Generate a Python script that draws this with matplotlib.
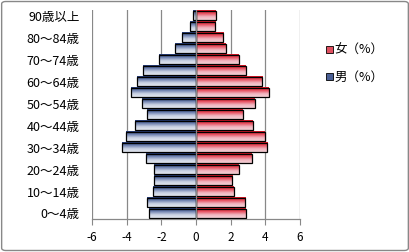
import numpy as np
import matplotlib
matplotlib.use("Agg")
import matplotlib.pyplot as plt
from matplotlib.colors import LinearSegmentedColormap
from matplotlib.patches import Patch, FancyBboxPatch

plt.rcParams['font.family'] = ['Noto Sans CJK JP', 'DejaVu Sans']

# age groups, bottom to top
ages = ["0～4歳", "5～9歳", "10～14歳", "15～19歳", "20～24歳", "25～29歳",
        "30～34歳", "35～39歳", "40～44歳", "45～49歳", "50～54歳", "55～59歳",
        "60～64歳", "65～69歳", "70～74歳", "75～79歳", "80～84歳", "85～89歳",
        "90歳以上"]
male = [2.73, 2.85, 2.50, 2.42, 2.42, 2.88, 4.29, 4.06, 3.54, 2.83, 3.12,
        3.77, 3.40, 3.08, 2.15, 1.21, 0.83, 0.37, 0.17]
female = [2.88, 2.83, 2.19, 2.08, 2.48, 3.21, 4.10, 3.96, 3.27, 2.71, 3.40,
          4.21, 3.81, 2.88, 2.48, 1.73, 1.56, 1.10, 1.15]
xticks = [-6, -4, -2, 0, 2, 4, 6]

blue_cmap = LinearSegmentedColormap.from_list(
    "b", ["#1c3370", "#6f82b0", "#c9d1e3", "#e2e6ef"])
red_cmap = LinearSegmentedColormap.from_list(
    "r", ["#d8101c", "#e65060", "#f0b4be", "#f4d0d6"])

fig = plt.figure(figsize=(4.10, 2.52), dpi=100)
ax = fig.add_axes([0.2244, 0.131, 0.5073, 0.829])

y = np.arange(len(ages))
neg_male = [-v for v in male]
bars_m = ax.barh(y, neg_male, height=0.88, facecolor="none",
                 edgecolor="black", linewidth=0.9, zorder=4)
bars_f = ax.barh(y, female, height=0.88, facecolor="none",
                 edgecolor="black", linewidth=0.9, zorder=4)

grad = np.linspace(0, 1, 64).reshape(-1, 1)
for bars, cmap in [(bars_m, blue_cmap), (bars_f, red_cmap)]:
    for p in bars.patches:
        x0, y0 = p.get_x(), p.get_y()
        w, h = p.get_width(), p.get_height()
        ax.imshow(grad, cmap=cmap, aspect="auto", origin="upper",
                  extent=[min(x0, x0 + w), max(x0, x0 + w), y0, y0 + h],
                  zorder=3)

ax.set_xlim(-6, 6)
ax.set_ylim(-0.5, len(ages) - 0.5)
ax.set_xticks(xticks)
ax.set_xticklabels([str(t) for t in xticks], fontsize=8.5)
ax.set_yticks(y[::2])
ax.set_yticklabels(ages[::2], fontsize=9)
ax.tick_params(axis="y", length=0, pad=9)
ax.tick_params(axis="x", length=4, color="#888888", pad=5, direction="out")

ax.grid(axis="x", color="#888888", linewidth=0.9, zorder=0)
ax.axvline(0, color="#888888", linewidth=0.9, zorder=5)
for s in ["top", "right", "left"]:
    ax.spines[s].set_visible(False)
ax.spines["bottom"].set_color("#888888")
ax.spines["bottom"].set_linewidth(0.9)

handles = [Patch(facecolor="#e05060", edgecolor="black", linewidth=0.6),
           Patch(facecolor="#4a5f95", edgecolor="black", linewidth=0.6)]
fig.legend(handles, ["女（%）", "男（%）"], loc="upper left",
           bbox_to_anchor=(0.783, 0.845), frameon=False, fontsize=9,
           handlelength=0.55, handleheight=0.55, handletextpad=0.15,
           labelspacing=1.1, borderaxespad=0)

border = FancyBboxPatch((0.004, 0.006), 0.992, 0.988, transform=fig.transFigure,
                        boxstyle="round,pad=0,rounding_size=0.01",
                        facecolor="none", edgecolor="#888888", linewidth=1.0)
fig.patches.append(border)

fig.savefig("out.png", dpi=100)
